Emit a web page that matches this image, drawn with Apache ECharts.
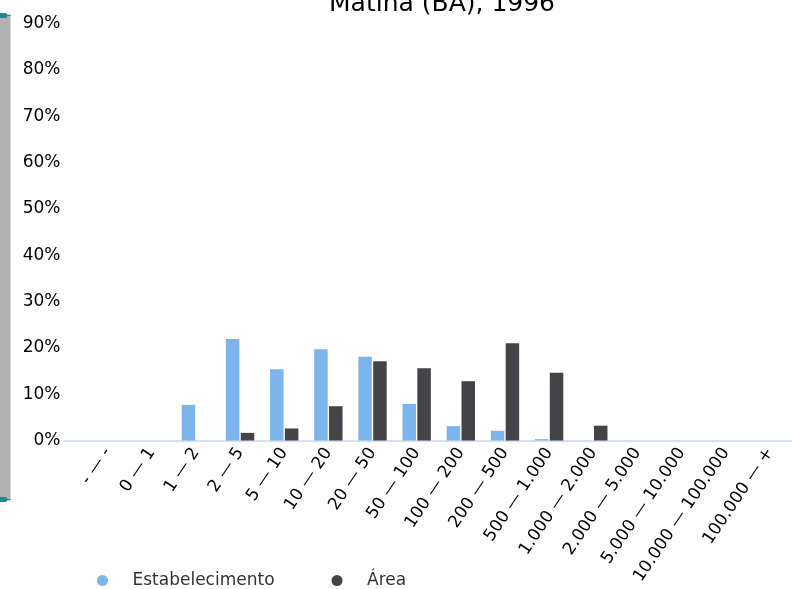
<!DOCTYPE html>
<html>
<head>
<meta charset="utf-8">
<script src="https://cdn.jsdelivr.net/npm/echarts@6/dist/echarts.min.js"></script>
<style>html,body{margin:0;padding:0;background:#fff}#c{width:792px;height:589px}</style>
</head>
<body>
<div id="c"></div>
<script>
const titleText = 'Matina (BA), 1996';
const categories = ['- \u2014 -', '0 \u2014 1', '1 \u2014 2', '2 \u2014 5', '5 \u2014 10', '10 \u2014 20', '20 \u2014 50', '50 \u2014 100', '100 \u2014 200', '200 \u2014 500', '500 \u2014 1.000', '1.000 \u2014 2.000', '2.000 \u2014 5.000', '5.000 \u2014 10.000', '10.000 \u2014 100.000', '100.000 \u2014 +'];
const estabelecimento = [0, 0, 7.7, 21.9, 15.4, 19.7, 18.1, 7.9, 3.1, 2.1, 0.3, 0, 0, 0, 0, 0];
const area = [0, 0, 0, 1.65, 2.6, 7.4, 17.1, 15.6, 12.8, 21.0, 14.6, 3.2, 0, 0, 0, 0];
const yTicks = [0, 10, 20, 30, 40, 50, 60, 70, 80, 90];

const chart = echarts.init(document.getElementById('c'));
const font = 'DejaVu Sans';
chart.setOption({
  animation: false,
  textStyle: { fontFamily: font },
  title: {
    text: titleText,
    left: 324,
    top: -13,
    textStyle: { fontSize: 25, fontWeight: 'normal', color: '#000', fontFamily: font }
  },
  legend: {
    left: 92,
    top: 567,
    icon: 'circle',
    itemWidth: 50,
    itemHeight: 11,
    itemGap: 57,
    textStyle: { fontSize: 17, color: '#333', fontFamily: font }
  },
  grid: [
    { left: 85.5, right: -5.5, top: 23.5, bottom: 148.5 },
    { left: 64, right: 0, top: 23.5, bottom: 148.5 }
  ],
  dataZoom: [{
    type: 'slider',
    yAxisIndex: 0,
    left: -10,
    width: 20,
    top: 12,
    bottom: 91,
    showDetail: false,
    brushSelect: false,
    backgroundColor: '#c6c6c6',
    borderColor: 'transparent',
    fillerColor: 'rgba(120,120,120,0.25)',
    handleSize: '100%',
    handleStyle: { color: '#1a8a8a', borderColor: '#1a8a8a' },
    moveHandleSize: 0,
    dataBackground: { lineStyle: { opacity: 0 }, areaStyle: { opacity: 0 } },
    selectedDataBackground: { lineStyle: { opacity: 0 }, areaStyle: { opacity: 0 } }
  }],
  xAxis: [{
    type: 'category',
    data: categories,
    gridIndex: 0,
    axisLine: { show: false },
    axisTick: { show: false },
    axisLabel: { rotate: 56, fontSize: 17, color: '#000', margin: 9, interval: 0, fontFamily: font }
  }, {
    type: 'value',
    gridIndex: 1,
    min: 0, max: 1,
    axisLine: { show: true, lineStyle: { color: '#ccd6eb', width: 1.5 } },
    axisTick: { show: false },
    axisLabel: { show: false },
    splitLine: { show: false }
  }],
  yAxis: [{
    type: 'value',
    gridIndex: 0,
    min: yTicks[0],
    max: yTicks[yTicks.length - 1],
    interval: 10,
    axisLine: { show: false },
    axisTick: { show: false },
    splitLine: { show: false },
    axisLabel: { formatter: '{value}%', fontSize: 17, color: '#000', margin: 25, fontFamily: font }
  }, {
    type: 'value',
    gridIndex: 1,
    show: false
  }],
  series: [{
    name: 'Estabelecimento',
    type: 'bar',
    data: estabelecimento,
    barWidth: 13.5,
    barGap: '10%',
    itemStyle: { color: '#7cb5ec' }
  }, {
    name: '\u00c1rea',
    type: 'bar',
    data: area,
    barWidth: 13.5,
    barGap: '10%',
    itemStyle: { color: '#434348' }
  }]
});
</script>
</body>
</html>
